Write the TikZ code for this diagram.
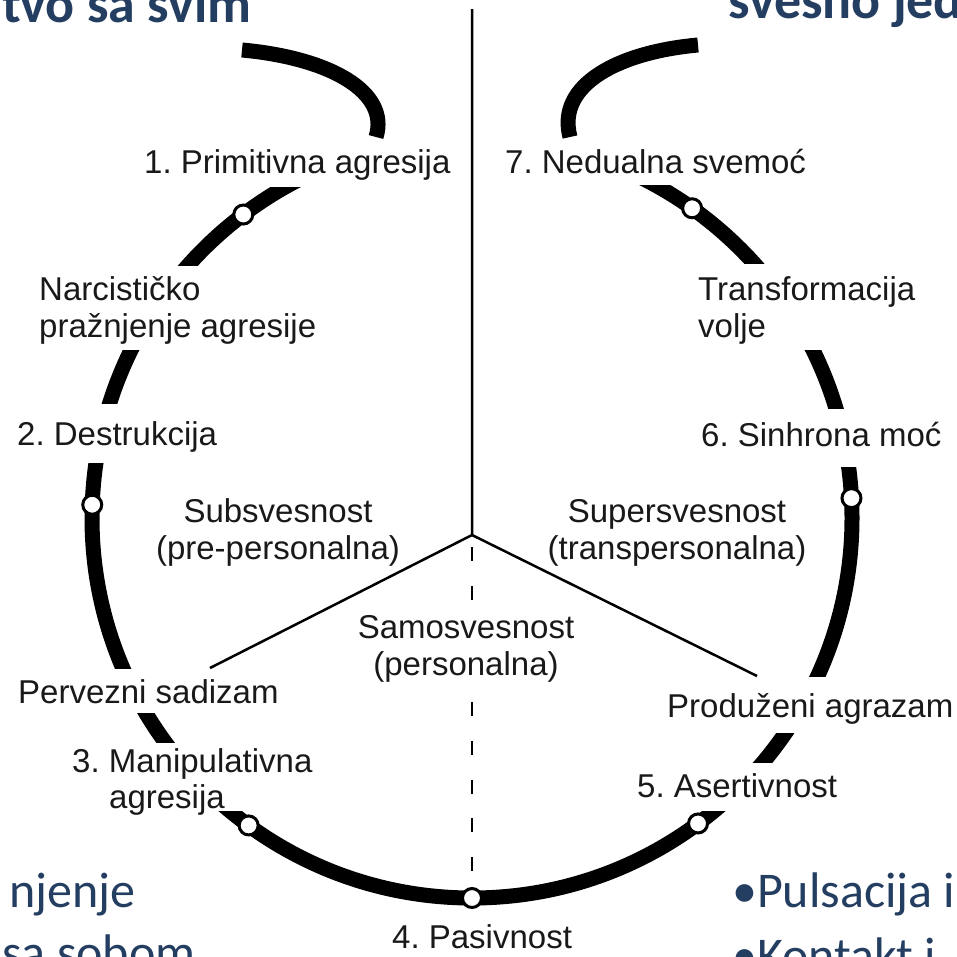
\documentclass[tikz,border=0pt]{standalone}
\usepackage{fontspec}
\setmainfont{Liberation Sans}
\newfontfamily\slidefont{Carlito}
\usetikzlibrary{calc}
\definecolor{slideblue}{RGB}{36,62,98}
\definecolor{ink}{RGB}{25,25,25}
\begin{document}
\frenchspacing
\begin{tikzpicture}[x=1pt,y=-1pt,
  lbl/.style={inner sep=0pt, text=ink, font=\fontsize{33}{37}\selectfont},
  ring/.style={line width=15pt, line cap=butt, black},
  dot/.style={circle, draw=black, fill=white, line width=3pt, minimum size=19pt, inner sep=0pt},
  guide/.style={line width=2.5pt, black},
  slidetext/.style={inner sep=0pt, text=slideblue, font=\slidefont\fontsize{50}{60}\selectfont},
  slidebold/.style={inner sep=0pt, text=slideblue, font=\slidefont\bfseries\fontsize{54}{60}\selectfont}]
\useasboundingbox (0,0) rectangle (957,956);
\clip (0,0) rectangle (957,956);
\fill[white] (0,0) rectangle (957,956);

\coordinate (C) at (472,518);
% circle segments, cut horizontally by the labels
\foreach \ya/\yb/\xa/\xb in {187/265/0/472, 350/403/0/472, 463/668/0/472, 713/742/0/472, 811/960/0/957, 733/762/472/957, 467/676/472/957, 350/408/472/957, 185/263/472/957}
{\begin{scope}\clip (\xa,\ya) rectangle (\xb,\yb); \draw[ring] (C) circle[radius=380pt]; \end{scope}}

% spiral ends at the top
\coordinate (sl1) at (242,50);
\coordinate (sl2) at (376,137);
\coordinate (sr1) at (698,45);
\coordinate (sr2) at (570,137);
\draw[ring] (sl1) .. controls (330,58) and (390,92) .. (sl2);
\draw[ring] (sr1) .. controls (620,52) and (556,84) .. (sr2);

% stage dots
\node[dot] (d1) at ($(C)+(127:380pt)$) {};
\node[dot] (d2) at ($(C)+(178:380pt)$) {};
\node[dot] (d3) at ($(C)+(234:380pt)$) {};
\node[dot] (d4) at ($(C)+(270:380pt)$) {};
\node[dot] (d5) at ($(C)+(306.5:380pt)$) {};
\node[dot] (d6) at ($(C)+(3:380pt)$) {};
\node[dot] (d7) at ($(C)+(54.6:380pt)$) {};

% dividing lines
\coordinate (top) at (472,9);
\coordinate (apex) at (472,535);
\coordinate (lend) at (210,668);
\coordinate (rend) at (757,676);
\draw[guide] (top) -- (apex) -- (lend);
\draw[guide] (apex) -- (rend);
\draw[guide, dash pattern=on 14pt off 24.75pt, dash phase=26.75pt] (apex) -- (d4);

% labels
\node[lbl, anchor=base west] (t1) at (144,173) {1. Primitivna agresija};
\node[lbl, anchor=base west] (t7) at (505,173) {7. Nedualna svemoć};
\node[lbl, anchor=base west] (tn1) at (39,300) {Narcističko};
\node[lbl, anchor=base west] (tn2) at (39,337) {pražnjenje agresije};
\node[lbl, anchor=base west] (tt1) at (698,300) {Transformacija};
\node[lbl, anchor=base west] (tt2) at (698,337) {volje};
\node[lbl, anchor=base west] (t2) at (17,445) {2. Destrukcija};
\node[lbl, anchor=base west] (t6) at (701,446) {6. Sinhrona moć};
\node[lbl, anchor=base] (sub1) at (278,522) {Subsvesnost};
\node[lbl, anchor=base] (sub2) at (278,559) {(pre-personalna)};
\node[lbl, anchor=base] (sup1) at (677,522) {Supersvesnost};
\node[lbl, anchor=base] (sup2) at (677,559) {(transpersonalna)};
\node[lbl, anchor=base, fill=white, inner sep=4pt] (sam1) at (466,638) {Samosvesnost};
\node[lbl, anchor=base, fill=white, inner sep=4pt] (sam2) at (466,675) {(personalna)};
\node[lbl, anchor=base west] (tp) at (18,703) {Pervezni sadizam};
\node[lbl, anchor=base west] (tpa) at (667,717) {Produženi agrazam};
\node[lbl, anchor=base west] (t3a) at (72,772) {3. Manipulativna};
\node[lbl, anchor=base west] (t3b) at (109,808) {agresija};
\node[lbl, anchor=base west] (t5) at (637,797) {5. Asertivnost};
\node[lbl, anchor=base west] (t4) at (392,948) {4. Pasivnost};

% slide text around the figure
\node[slidebold, anchor=base west] (h1) at (2,22) {tvo sa svim};
\node[slidebold, anchor=base west] (h2) at (728,18) {svesno jed};
\node[slidetext, anchor=base west] (b1) at (9,907) {njenje};
\node[slidetext, anchor=base west] (b2) at (2,969) {sa sobom};
\node[slidetext, anchor=base west] (b3) at (732,907) {•Pulsacija i};
\node[slidetext, anchor=base west] (b4) at (732,972) {•Kontakt i};
\end{tikzpicture}
\end{document}
